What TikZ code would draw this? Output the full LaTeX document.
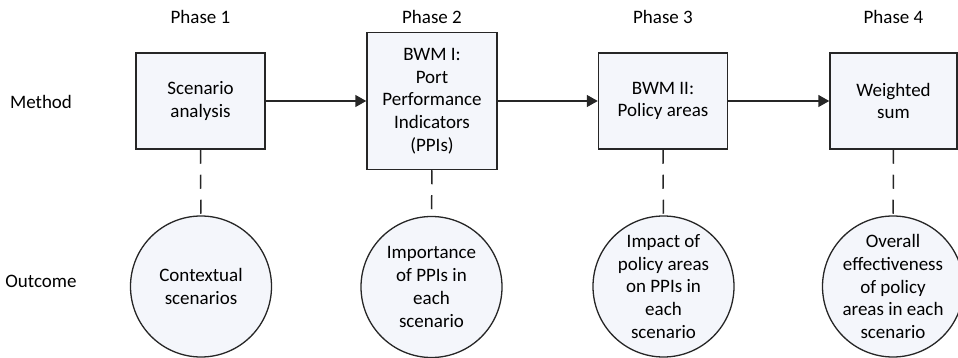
\documentclass[tikz,border=0pt]{standalone}
\usepackage{fontspec}
\setmainfont{Carlito}
\usetikzlibrary{arrows.meta, positioning}
\definecolor{paleblue}{RGB}{244,246,251}

\begin{document}
\begin{tikzpicture}[x=1pt, y=-1pt, >={Triangle[length=11pt,width=12pt]}, line cap=butt, line join=miter]

% --------- styles ----------
\tikzset{
  txt/.style={font=\fontsize{19}{22.7}\selectfont, align=center},
  stage/.style={txt, draw=black!85, line width=1.5pt, inner sep=0pt, fill=paleblue,
    minimum width=129pt, minimum height=96pt},
  result/.style={txt, circle, draw=black!85, line width=1.3pt, inner sep=-6pt, fill=paleblue,
    minimum size=141pt},
  flow/.style={->, line width=1.5pt, black!85},
  link/.style={line width=1.5pt, black!85, dash pattern=on 14pt off 11pt}
}
\def\yPh{17}      % phase labels
\def\yM{101}      % method row
\def\yO{286.5}    % outcome row

\useasboundingbox (0,0) rectangle (958,358);

% ===================== labels =====================
\node[txt] (ph1) at (200.5,\yPh) {Phase 1};
\node[txt] (ph2) at (432,\yPh)   {Phase 2};
\node[txt] (ph3) at (663,\yPh)   {Phase 3};
\node[txt] (ph4) at (893.5,\yPh) {Phase 4};

\node[txt] (method)  at (41,102) {Method};
\node[txt] (outcome) at (41,281) {Outcome};

% ===================== method row =====================
\node[stage] (scen) at (200.5,\yM) {Scenario\\analysis};
\node[stage, minimum width=130pt, minimum height=137pt] (bwm1) at (432,\yM)
  {BWM I:\\Port\\Performance\\Indicators\\(PPIs)};
\node[stage] (bwm2) at (663,\yM) {BWM II:\\Policy areas};
\node[stage, minimum width=127pt] (wsum) at (893.5,\yM) {Weighted\\sum};

% ===================== outcome row =====================
\node[result] (ctx)  at (201,\yO)   {Contextual\\scenarios};
\node[result] (imp)  at (431.5,287) {Importance\\of PPIs in\\each\\scenario};
\node[result] (pol)  at (663.5,\yO) {Impact of\\policy areas\\on PPIs in\\each\\scenario};
\node[result] (eff)  at (893,\yO)   {Overall\\effectiveness\\of policy\\areas in each\\scenario};

% arrows between phases
\draw[flow] (scen.east) -- (scen.east -| bwm1.west);
\draw[flow] (bwm1.east) -- (bwm1.east -| bwm2.west);
\draw[flow] (bwm2.east) -- (bwm2.east -| wsum.west);

% dashed links method -> outcome
\draw[link] (scen) -- (ctx);
\draw[link] (bwm1) -- (imp);
\draw[link] (bwm2) -- (pol);
\draw[link] (wsum) -- (eff);

\end{tikzpicture}
\end{document}
